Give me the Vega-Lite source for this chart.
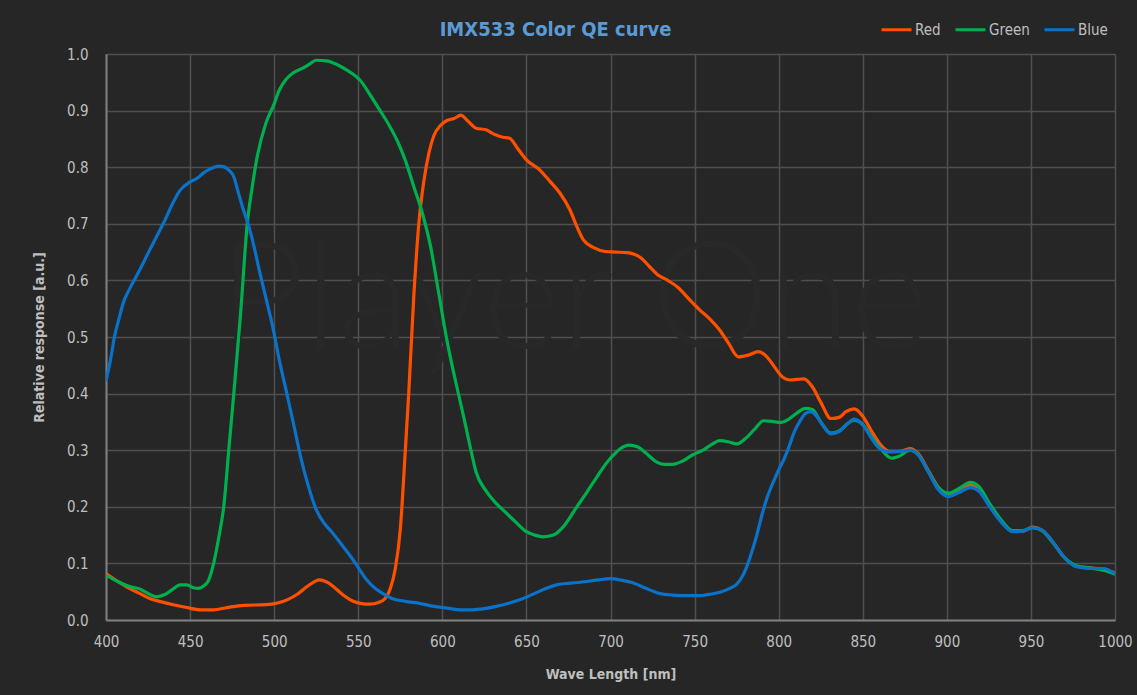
{
  "$schema": "https://vega.github.io/schema/vega-lite/v6.json",
  "width": 1009,
  "height": 566,
  "autosize": {"type": "none"},
  "padding": {"left": 106, "top": 54, "right": 22, "bottom": 75},
  "background": "#262626",
  "title": {"text": "IMX533 Color QE curve", "color": "#5b9bd5", "font": "DejaVu Sans Condensed", "fontSize": 20, "fontWeight": "bold", "anchor": "middle", "dx": -55, "dy": 41, "offset": 14},
  "config": {
    "view": {"stroke": null},
    "font": "DejaVu Sans Condensed"
  },
  "datasets": {
    "qe": [
      {"w":400,"s":"Red","v":0.082},{"w":405,"s":"Red","v":0.072},{"w":412,"s":"Red","v":0.059},{"w":420,"s":"Red","v":0.047},{"w":426,"s":"Red","v":0.038},{"w":433,"s":"Red","v":0.032},{"w":440,"s":"Red","v":0.027},{"w":448,"s":"Red","v":0.022},{"w":456,"s":"Red","v":0.018},{"w":464,"s":"Red","v":0.018},{"w":472,"s":"Red","v":0.022},{"w":482,"s":"Red","v":0.026},{"w":495,"s":"Red","v":0.027},{"w":502,"s":"Red","v":0.030},{"w":508,"s":"Red","v":0.036},{"w":514,"s":"Red","v":0.046},{"w":520,"s":"Red","v":0.060},{"w":527,"s":"Red","v":0.071},{"w":532,"s":"Red","v":0.066},{"w":536,"s":"Red","v":0.057},{"w":542,"s":"Red","v":0.042},{"w":547,"s":"Red","v":0.033},{"w":552,"s":"Red","v":0.029},{"w":557,"s":"Red","v":0.028},{"w":562,"s":"Red","v":0.031},{"w":566,"s":"Red","v":0.038},{"w":569,"s":"Red","v":0.055},{"w":572,"s":"Red","v":0.09},{"w":575,"s":"Red","v":0.16},{"w":578,"s":"Red","v":0.30},{"w":580,"s":"Red","v":0.40},{"w":583,"s":"Red","v":0.57},{"w":586,"s":"Red","v":0.70},{"w":589,"s":"Red","v":0.775},{"w":592,"s":"Red","v":0.825},{"w":595,"s":"Red","v":0.856},{"w":599,"s":"Red","v":0.874},{"w":603,"s":"Red","v":0.883},{"w":607,"s":"Red","v":0.886},{"w":611,"s":"Red","v":0.892},{"w":615,"s":"Red","v":0.882},{"w":620,"s":"Red","v":0.869},{"w":626,"s":"Red","v":0.866},{"w":631,"s":"Red","v":0.858},{"w":636,"s":"Red","v":0.853},{"w":640,"s":"Red","v":0.851},{"w":645,"s":"Red","v":0.832},{"w":650,"s":"Red","v":0.813},{"w":658,"s":"Red","v":0.795},{"w":664,"s":"Red","v":0.775},{"w":670,"s":"Red","v":0.754},{"w":676,"s":"Red","v":0.724},{"w":680,"s":"Red","v":0.695},{"w":684,"s":"Red","v":0.671},{"w":690,"s":"Red","v":0.658},{"w":697,"s":"Red","v":0.651},{"w":703,"s":"Red","v":0.650},{"w":710,"s":"Red","v":0.649},{"w":714,"s":"Red","v":0.646},{"w":718,"s":"Red","v":0.640},{"w":723,"s":"Red","v":0.625},{"w":728,"s":"Red","v":0.610},{"w":734,"s":"Red","v":0.600},{"w":740,"s":"Red","v":0.588},{"w":747,"s":"Red","v":0.566},{"w":753,"s":"Red","v":0.548},{"w":759,"s":"Red","v":0.532},{"w":765,"s":"Red","v":0.512},{"w":770,"s":"Red","v":0.49},{"w":776,"s":"Red","v":0.465},{"w":782,"s":"Red","v":0.468},{"w":788,"s":"Red","v":0.474},{"w":793,"s":"Red","v":0.465},{"w":798,"s":"Red","v":0.445},{"w":802,"s":"Red","v":0.430},{"w":807,"s":"Red","v":0.424},{"w":811,"s":"Red","v":0.425},{"w":815,"s":"Red","v":0.426},{"w":820,"s":"Red","v":0.412},{"w":825,"s":"Red","v":0.385},{"w":831,"s":"Red","v":0.356},{"w":836,"s":"Red","v":0.358},{"w":840,"s":"Red","v":0.368},{"w":845,"s":"Red","v":0.373},{"w":850,"s":"Red","v":0.360},{"w":855,"s":"Red","v":0.335},{"w":860,"s":"Red","v":0.312},{"w":866,"s":"Red","v":0.298},{"w":872,"s":"Red","v":0.298},{"w":878,"s":"Red","v":0.303},{"w":883,"s":"Red","v":0.294},{"w":889,"s":"Red","v":0.264},{"w":895,"s":"Red","v":0.234},{"w":901,"s":"Red","v":0.221},{"w":907,"s":"Red","v":0.228},{"w":914,"s":"Red","v":0.238},{"w":919,"s":"Red","v":0.231},{"w":925,"s":"Red","v":0.205},{"w":932,"s":"Red","v":0.176},{"w":939,"s":"Red","v":0.157},{"w":945,"s":"Red","v":0.157},{"w":951,"s":"Red","v":0.164},{"w":957,"s":"Red","v":0.158},{"w":963,"s":"Red","v":0.138},{"w":970,"s":"Red","v":0.110},{"w":977,"s":"Red","v":0.095},{"w":985,"s":"Red","v":0.092},{"w":993,"s":"Red","v":0.090},{"w":1000,"s":"Red","v":0.083},
      {"w":400,"s":"Green","v":0.079},{"w":407,"s":"Green","v":0.068},{"w":414,"s":"Green","v":0.059},{"w":420,"s":"Green","v":0.055},{"w":425,"s":"Green","v":0.047},{"w":430,"s":"Green","v":0.041},{"w":435,"s":"Green","v":0.045},{"w":440,"s":"Green","v":0.055},{"w":444,"s":"Green","v":0.062},{"w":448,"s":"Green","v":0.062},{"w":452,"s":"Green","v":0.057},{"w":455,"s":"Green","v":0.056},{"w":458,"s":"Green","v":0.060},{"w":461,"s":"Green","v":0.070},{"w":464,"s":"Green","v":0.100},{"w":467,"s":"Green","v":0.145},{"w":470,"s":"Green","v":0.200},{"w":473,"s":"Green","v":0.300},{"w":476,"s":"Green","v":0.400},{"w":480,"s":"Green","v":0.540},{"w":484,"s":"Green","v":0.700},{"w":487,"s":"Green","v":0.766},{"w":490,"s":"Green","v":0.820},{"w":495,"s":"Green","v":0.877},{"w":500,"s":"Green","v":0.912},{"w":503,"s":"Green","v":0.936},{"w":507,"s":"Green","v":0.955},{"w":511,"s":"Green","v":0.966},{"w":517,"s":"Green","v":0.975},{"w":521,"s":"Green","v":0.982},{"w":525,"s":"Green","v":0.989},{"w":531,"s":"Green","v":0.988},{"w":537,"s":"Green","v":0.982},{"w":543,"s":"Green","v":0.972},{"w":548,"s":"Green","v":0.962},{"w":551,"s":"Green","v":0.954},{"w":557,"s":"Green","v":0.928},{"w":563,"s":"Green","v":0.900},{"w":568,"s":"Green","v":0.876},{"w":573,"s":"Green","v":0.848},{"w":578,"s":"Green","v":0.812},{"w":583,"s":"Green","v":0.766},{"w":588,"s":"Green","v":0.720},{"w":593,"s":"Green","v":0.660},{"w":598,"s":"Green","v":0.575},{"w":603,"s":"Green","v":0.490},{"w":608,"s":"Green","v":0.420},{"w":613,"s":"Green","v":0.355},{"w":617,"s":"Green","v":0.300},{"w":620,"s":"Green","v":0.262},{"w":626,"s":"Green","v":0.228},{"w":632,"s":"Green","v":0.206},{"w":638,"s":"Green","v":0.189},{"w":644,"s":"Green","v":0.172},{"w":650,"s":"Green","v":0.156},{"w":655,"s":"Green","v":0.150},{"w":660,"s":"Green","v":0.147},{"w":666,"s":"Green","v":0.150},{"w":672,"s":"Green","v":0.165},{"w":680,"s":"Green","v":0.200},{"w":686,"s":"Green","v":0.226},{"w":692,"s":"Green","v":0.253},{"w":697,"s":"Green","v":0.275},{"w":702,"s":"Green","v":0.292},{"w":706,"s":"Green","v":0.303},{"w":711,"s":"Green","v":0.309},{"w":716,"s":"Green","v":0.306},{"w":721,"s":"Green","v":0.295},{"w":727,"s":"Green","v":0.280},{"w":732,"s":"Green","v":0.275},{"w":737,"s":"Green","v":0.275},{"w":743,"s":"Green","v":0.281},{"w":749,"s":"Green","v":0.292},{"w":755,"s":"Green","v":0.300},{"w":760,"s":"Green","v":0.310},{"w":765,"s":"Green","v":0.317},{"w":770,"s":"Green","v":0.315},{"w":775,"s":"Green","v":0.311},{"w":780,"s":"Green","v":0.320},{"w":786,"s":"Green","v":0.338},{"w":791,"s":"Green","v":0.352},{"w":796,"s":"Green","v":0.351},{"w":801,"s":"Green","v":0.349},{"w":806,"s":"Green","v":0.355},{"w":811,"s":"Green","v":0.366},{"w":816,"s":"Green","v":0.374},{"w":820,"s":"Green","v":0.372},{"w":825,"s":"Green","v":0.350},{"w":831,"s":"Green","v":0.330},{"w":836,"s":"Green","v":0.334},{"w":841,"s":"Green","v":0.347},{"w":845,"s":"Green","v":0.353},{"w":850,"s":"Green","v":0.345},{"w":855,"s":"Green","v":0.325},{"w":860,"s":"Green","v":0.305},{"w":867,"s":"Green","v":0.286},{"w":872,"s":"Green","v":0.290},{"w":878,"s":"Green","v":0.300},{"w":883,"s":"Green","v":0.292},{"w":889,"s":"Green","v":0.262},{"w":895,"s":"Green","v":0.234},{"w":901,"s":"Green","v":0.224},{"w":907,"s":"Green","v":0.232},{"w":914,"s":"Green","v":0.243},{"w":919,"s":"Green","v":0.236},{"w":925,"s":"Green","v":0.208},{"w":932,"s":"Green","v":0.178},{"w":939,"s":"Green","v":0.158},{"w":945,"s":"Green","v":0.158},{"w":951,"s":"Green","v":0.163},{"w":957,"s":"Green","v":0.157},{"w":963,"s":"Green","v":0.137},{"w":970,"s":"Green","v":0.110},{"w":977,"s":"Green","v":0.096},{"w":985,"s":"Green","v":0.092},{"w":993,"s":"Green","v":0.088},{"w":1000,"s":"Green","v":0.081},
      {"w":400,"s":"Blue","v":0.422},{"w":403,"s":"Blue","v":0.465},{"w":405,"s":"Blue","v":0.500},{"w":408,"s":"Blue","v":0.535},{"w":410,"s":"Blue","v":0.558},{"w":414,"s":"Blue","v":0.585},{"w":418,"s":"Blue","v":0.607},{"w":422,"s":"Blue","v":0.630},{"w":426,"s":"Blue","v":0.654},{"w":430,"s":"Blue","v":0.677},{"w":434,"s":"Blue","v":0.700},{"w":440,"s":"Blue","v":0.738},{"w":444,"s":"Blue","v":0.759},{"w":450,"s":"Blue","v":0.774},{"w":454,"s":"Blue","v":0.780},{"w":458,"s":"Blue","v":0.790},{"w":462,"s":"Blue","v":0.797},{"w":467,"s":"Blue","v":0.802},{"w":470,"s":"Blue","v":0.801},{"w":473,"s":"Blue","v":0.795},{"w":476,"s":"Blue","v":0.783},{"w":479,"s":"Blue","v":0.752},{"w":482,"s":"Blue","v":0.722},{"w":485,"s":"Blue","v":0.695},{"w":488,"s":"Blue","v":0.660},{"w":491,"s":"Blue","v":0.620},{"w":495,"s":"Blue","v":0.570},{"w":499,"s":"Blue","v":0.520},{"w":503,"s":"Blue","v":0.460},{"w":508,"s":"Blue","v":0.394},{"w":512,"s":"Blue","v":0.340},{"w":516,"s":"Blue","v":0.285},{"w":520,"s":"Blue","v":0.240},{"w":525,"s":"Blue","v":0.195},{"w":530,"s":"Blue","v":0.170},{"w":535,"s":"Blue","v":0.153},{"w":541,"s":"Blue","v":0.130},{"w":547,"s":"Blue","v":0.106},{"w":551,"s":"Blue","v":0.088},{"w":555,"s":"Blue","v":0.071},{"w":560,"s":"Blue","v":0.056},{"w":565,"s":"Blue","v":0.046},{"w":570,"s":"Blue","v":0.038},{"w":578,"s":"Blue","v":0.033},{"w":587,"s":"Blue","v":0.029},{"w":595,"s":"Blue","v":0.024},{"w":603,"s":"Blue","v":0.021},{"w":611,"s":"Blue","v":0.018},{"w":618,"s":"Blue","v":0.018},{"w":625,"s":"Blue","v":0.020},{"w":632,"s":"Blue","v":0.024},{"w":640,"s":"Blue","v":0.030},{"w":648,"s":"Blue","v":0.038},{"w":655,"s":"Blue","v":0.047},{"w":662,"s":"Blue","v":0.056},{"w":669,"s":"Blue","v":0.063},{"w":676,"s":"Blue","v":0.065},{"w":686,"s":"Blue","v":0.068},{"w":693,"s":"Blue","v":0.071},{"w":700,"s":"Blue","v":0.073},{"w":707,"s":"Blue","v":0.070},{"w":714,"s":"Blue","v":0.065},{"w":721,"s":"Blue","v":0.056},{"w":729,"s":"Blue","v":0.047},{"w":737,"s":"Blue","v":0.044},{"w":746,"s":"Blue","v":0.043},{"w":753,"s":"Blue","v":0.043},{"w":760,"s":"Blue","v":0.046},{"w":766,"s":"Blue","v":0.050},{"w":771,"s":"Blue","v":0.056},{"w":775,"s":"Blue","v":0.063},{"w":778,"s":"Blue","v":0.075},{"w":781,"s":"Blue","v":0.094},{"w":784,"s":"Blue","v":0.120},{"w":787,"s":"Blue","v":0.150},{"w":790,"s":"Blue","v":0.185},{"w":793,"s":"Blue","v":0.215},{"w":797,"s":"Blue","v":0.245},{"w":800,"s":"Blue","v":0.265},{"w":803,"s":"Blue","v":0.283},{"w":806,"s":"Blue","v":0.305},{"w":809,"s":"Blue","v":0.330},{"w":813,"s":"Blue","v":0.353},{"w":816,"s":"Blue","v":0.365},{"w":819,"s":"Blue","v":0.368},{"w":822,"s":"Blue","v":0.362},{"w":826,"s":"Blue","v":0.345},{"w":831,"s":"Blue","v":0.329},{"w":836,"s":"Blue","v":0.333},{"w":841,"s":"Blue","v":0.347},{"w":845,"s":"Blue","v":0.355},{"w":850,"s":"Blue","v":0.345},{"w":855,"s":"Blue","v":0.322},{"w":860,"s":"Blue","v":0.303},{"w":866,"s":"Blue","v":0.297},{"w":872,"s":"Blue","v":0.298},{"w":878,"s":"Blue","v":0.300},{"w":883,"s":"Blue","v":0.292},{"w":889,"s":"Blue","v":0.262},{"w":895,"s":"Blue","v":0.230},{"w":901,"s":"Blue","v":0.218},{"w":907,"s":"Blue","v":0.225},{"w":914,"s":"Blue","v":0.234},{"w":919,"s":"Blue","v":0.228},{"w":925,"s":"Blue","v":0.202},{"w":932,"s":"Blue","v":0.174},{"w":939,"s":"Blue","v":0.156},{"w":945,"s":"Blue","v":0.157},{"w":951,"s":"Blue","v":0.163},{"w":957,"s":"Blue","v":0.158},{"w":963,"s":"Blue","v":0.138},{"w":970,"s":"Blue","v":0.110},{"w":977,"s":"Blue","v":0.094},{"w":985,"s":"Blue","v":0.091},{"w":993,"s":"Blue","v":0.091},{"w":1000,"s":"Blue","v":0.082}
    ],
    "wm": [{"w": 678, "v": 0.56, "t": "Player One"}]
  },
  "layer": [
    {
      "data": {"name": "wm"},
      "mark": {"type": "text", "font": "Lato", "fontWeight": 300, "fontSize": 150, "color": "#282828", "align": "center", "baseline": "middle"},
      "encoding": {
        "x": {"field": "w", "type": "quantitative", "scale": {"domain": [400, 1000], "nice": false, "zero": false}},
        "y": {"field": "v", "type": "quantitative", "scale": {"domain": [0, 1], "nice": false}},
        "text": {"field": "t"}
      }
    },
    {
      "data": {"name": "qe"},
      "mark": {"type": "line", "interpolate": "monotone", "strokeWidth": 3.2, "clip": true},
      "encoding": {
        "x": {
          "field": "w", "type": "quantitative",
          "scale": {"domain": [400, 1000], "nice": false, "zero": false},
          "axis": {
            "title": "Wave Length [nm]",
            "values": [400,450,500,550,600,650,700,750,800,850,900,950,1000],
            "format": "d", "labelFlush": false,
            "labelFontSize": 15, "labelColor": "#bfbfbf", "labelPadding": 14, "labelFont": "DejaVu Sans Condensed",
            "titleFontSize": 14, "titleColor": "#bfbfbf", "titleFontWeight": "bold", "titlePadding": 18, "titleFont": "DejaVu Sans Condensed",
            "ticks": false, "domainColor": "#7f7f7f", "domainWidth": 2,
            "gridColor": "#4f4f4f", "gridWidth": 1.5
          }
        },
        "y": {
          "field": "v", "type": "quantitative",
          "scale": {"domain": [0, 1], "nice": false},
          "axis": {
            "title": "Relative response [a.u.]",
            "values": [0,0.1,0.2,0.3,0.4,0.5,0.6,0.7,0.8,0.9,1.0],
            "format": ".1f", "labelFlush": false,
            "labelFontSize": 15, "labelColor": "#bfbfbf", "labelPadding": 18, "labelFont": "DejaVu Sans Condensed",
            "titleFontSize": 14, "titleColor": "#bfbfbf", "titleFontWeight": "bold", "titlePadding": 20, "titleFont": "DejaVu Sans Condensed",
            "ticks": false, "domainColor": "#7f7f7f", "domainWidth": 2,
            "gridColor": "#4f4f4f", "gridWidth": 1.5
          }
        },
        "color": {
          "field": "s", "type": "nominal",
          "scale": {"domain": ["Red", "Green", "Blue"], "range": ["#ff5000", "#00b04f", "#0a72c8"]},
          "legend": {
            "title": null, "orient": "none", "direction": "horizontal",
            "legendX": 774, "legendY": -41,
            "symbolType": "stroke", "symbolSize": 900, "symbolStrokeWidth": 3,
            "labelFontSize": 15, "labelColor": "#bfbfbf", "labelFont": "DejaVu Sans Condensed", "labelOffset": 2,
            "columnPadding": 8
          }
        }
      }
    }
  ]
}
